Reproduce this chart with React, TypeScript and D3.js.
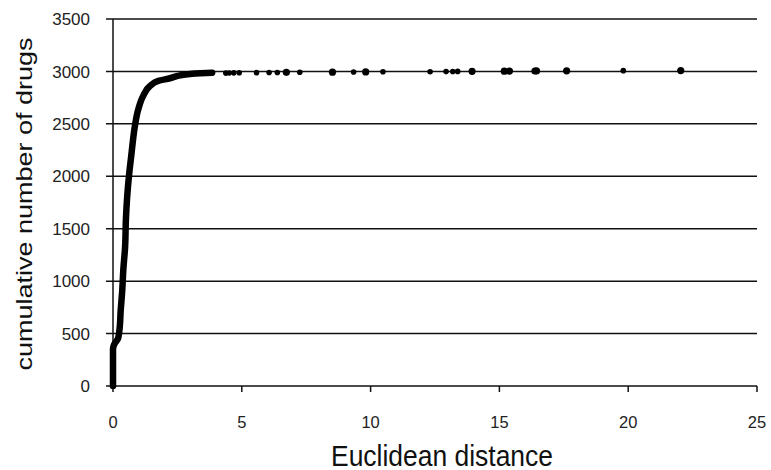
import React from "react";
import * as d3 from "d3";

// dense part of the cumulative curve
const curveDistance = [0, 0, 0.02, 0.07, 0.2, 0.25, 0.3, 0.36, 0.4, 0.47, 0.5, 0.55, 0.63, 0.71, 0.75, 0.85, 0.98, 1.17, 1.43, 1.76, 2.21, 2.6, 2.98, 3.4, 3.85];
const curveCount = [0, 343, 380, 407, 455, 534, 724, 915, 1106, 1328, 1582, 1805, 2028, 2200, 2288, 2479, 2638, 2765, 2860, 2910, 2935, 2962, 2976, 2983, 2988];

// sparse outliers along the 3000 line
const outlierDistance = [4.38, 4.51, 4.69, 4.9, 5.57, 6.06, 6.38, 6.73, 7.25, 8.52, 9.34, 9.81, 10.48, 12.31, 12.93, 13.19, 13.38, 13.94, 15.19, 15.39, 16.38, 16.44, 17.61, 19.81, 22.04];
const outlierCount = [2989, 2990, 2991, 2992, 2993, 2994, 2995, 2996, 2997, 2998, 2999, 3000, 3001, 3002, 3003, 3004, 3005, 3006, 3007, 3008, 3009, 3010, 3011, 3012, 3013];
const outlierBig = [false, false, false, false, false, false, false, true, false, true, false, true, false, false, false, false, false, true, true, true, true, true, true, false, true];

const xTicks = [0, 5, 10, 15, 20, 25];
const yTicks = [0, 500, 1000, 1500, 2000, 2500, 3000, 3500];

const W = 771;
const H = 470;
const margin = { left: 113, right: 14, top: 19, bottom: 84 };

export default function App() {
  const x = d3.scaleLinear().domain([0, 25]).range([margin.left, W - margin.right]);
  const y = d3.scaleLinear().domain([0, 3500]).range([H - margin.bottom, margin.top]);

  const pts: [number, number][] = curveDistance.map((d, i) => [d, curveCount[i]]);
  const line = d3.line<[number, number]>().x(d => x(d[0])).y(d => y(d[1])).curve(d3.curveMonotoneY);

  const font = "Arial, 'Liberation Sans', sans-serif";

  return (
    <svg width={W} height={H} style={{ position: "absolute", left: 0, top: 0, background: "#fff" }}>
      {/* gridlines + y ticks */}
      {yTicks.map(t => (
        <g key={"y" + t}>
          <line x1={x(0) - 7} x2={x(25)} y1={y(t)} y2={y(t)} stroke="#111" strokeWidth={1.5} />
          <text x={90} y={y(t)} dy="0.36em" textAnchor="end" fontSize={17} fill="#222" fontFamily={font}>{t}</text>
        </g>
      ))}
      {/* y axis */}
      <line x1={x(0)} x2={x(0)} y1={y(3500)} y2={y(0)} stroke="#111" strokeWidth={1.5} />
      {/* x ticks */}
      {xTicks.map(t => (
        <g key={"x" + t}>
          <line x1={x(t)} x2={x(t)} y1={y(0)} y2={y(0) + 6} stroke="#111" strokeWidth={1.5} />
          <text x={x(t)} y={y(0) + 36} dy="0.36em" textAnchor="middle" fontSize={16.5} fill="#222" fontFamily={font}>{t}</text>
        </g>
      ))}
      {/* dense curve */}
      <path d={line(pts) || ""} fill="none" stroke="#000" strokeWidth={6.5} strokeLinejoin="round" strokeLinecap="round" />
      {/* outliers */}
      {outlierDistance.map((d, i) => (
        <circle key={"o" + i} cx={x(d)} cy={y(outlierCount[i]) + 0.5} r={outlierBig[i] ? 3.6 : 2.8} fill="#000" />
      ))}
      {/* titles */}
      <text x={442} y={465.5} textAnchor="middle" fontSize={30} textLength={222} lengthAdjust="spacingAndGlyphs" fill="#111" fontFamily={font}>Euclidean distance</text>
      <text transform={`translate(31.6,204) scale(0.8,1) rotate(-90)`} textAnchor="middle" fontSize={27} fill="#111" fontFamily={font}>cumulative number of drugs</text>
    </svg>
  );
}
